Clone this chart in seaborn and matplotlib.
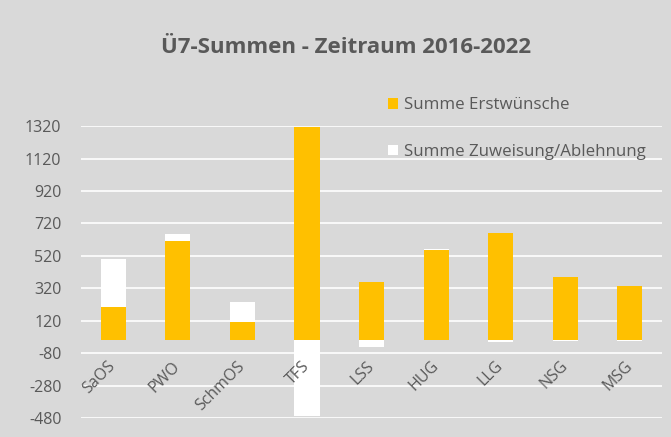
import numpy as np
import pandas as pd
import seaborn as sns
import matplotlib.pyplot as plt
from matplotlib.patches import Patch

# Daten
schulen = ["SaOS", "PWO", "SchmOS", "TFS", "LSS", "HUG", "LLG", "NSG", "MSG"]
erstwuensche = [205, 614, 110, 1315, 357, 554, 661, 390, 332]
zuweisung = [298, 41, 128, -466, -40, 5, -12, -5, -5]
y_ticks = list(range(-480, 1321, 200))

gold = "#FFC000"
grau = "#D9D9D9"
text_col = "#595959"

sns.set_theme(style="white")
plt.rcParams["font.family"] = ["Open Sans", "DejaVu Sans"]
plt.rcParams["axes.unicode_minus"] = False

df = pd.DataFrame({"Schule": schulen, "Erst": erstwuensche, "Zuw": zuweisung})
# positive Werte auf Erstwünsche stapeln, negative ab Null (wie Excel)
df["Basis"] = np.where(df["Zuw"] > 0, df["Erst"], 0)

fig = plt.figure(figsize=(6.71, 4.37), dpi=100, facecolor=grau)
ax = fig.add_axes([0.1207, 0.0435, 0.866, 0.668])
ax.set_facecolor(grau)

# Gitterlinien hinter den Balken, Beschriftung davor
for y in y_ticks:
    ax.axhline(y, color="white", linewidth=1.2, zorder=0.5)

sns.barplot(data=df, x="Schule", y="Erst", color=gold, width=0.39,
            saturation=1, linewidth=0, ax=ax, zorder=1)
sns.barplot(data=df, x="Schule", y="Zuw", color="white", width=0.39,
            saturation=1, linewidth=0, bottom=df["Basis"].values, ax=ax,
            zorder=1)
ax.set_axisbelow(False)

ax.set_xlim(-0.5, len(schulen) - 0.5)
ax.set_ylim(-480, 1320)
ax.set_yticks(y_ticks)
ax.set_xlabel("")
ax.set_ylabel("")
for s in ax.spines.values():
    s.set_visible(False)
ax.spines["bottom"].set_position(("data", 0))
ax.tick_params(axis="both", length=0, colors=text_col, labelsize=11.5)
ax.tick_params(axis="y", pad=14)
ax.tick_params(axis="x", pad=17)
for lbl in ax.get_xticklabels():
    lbl.set_rotation(45)
    lbl.set_ha("right")
    lbl.set_va("center")
    lbl.set_rotation_mode("anchor")

fig.text(0.516, 0.892, "Ü7-Summen - Zeitraum 2016-2022", ha="center",
         va="center", fontsize=16, fontweight="bold", color=text_col)

handles = [Patch(facecolor=gold, edgecolor="none", label="Summe Erstwünsche"),
           Patch(facecolor="white", edgecolor="none",
                 label="Summe Zuweisung/Ablehnung")]
leg = fig.legend(handles=handles, loc="upper left",
                 bbox_to_anchor=(0.556, 0.812), frameon=False,
                 fontsize=12.2, handlelength=0.6, handleheight=0.6,
                 handletextpad=0.35, labelspacing=1.8)
for t in leg.get_texts():
    t.set_color(text_col)

plt.savefig("out.png", dpi=100, facecolor=grau)
plt.close()
